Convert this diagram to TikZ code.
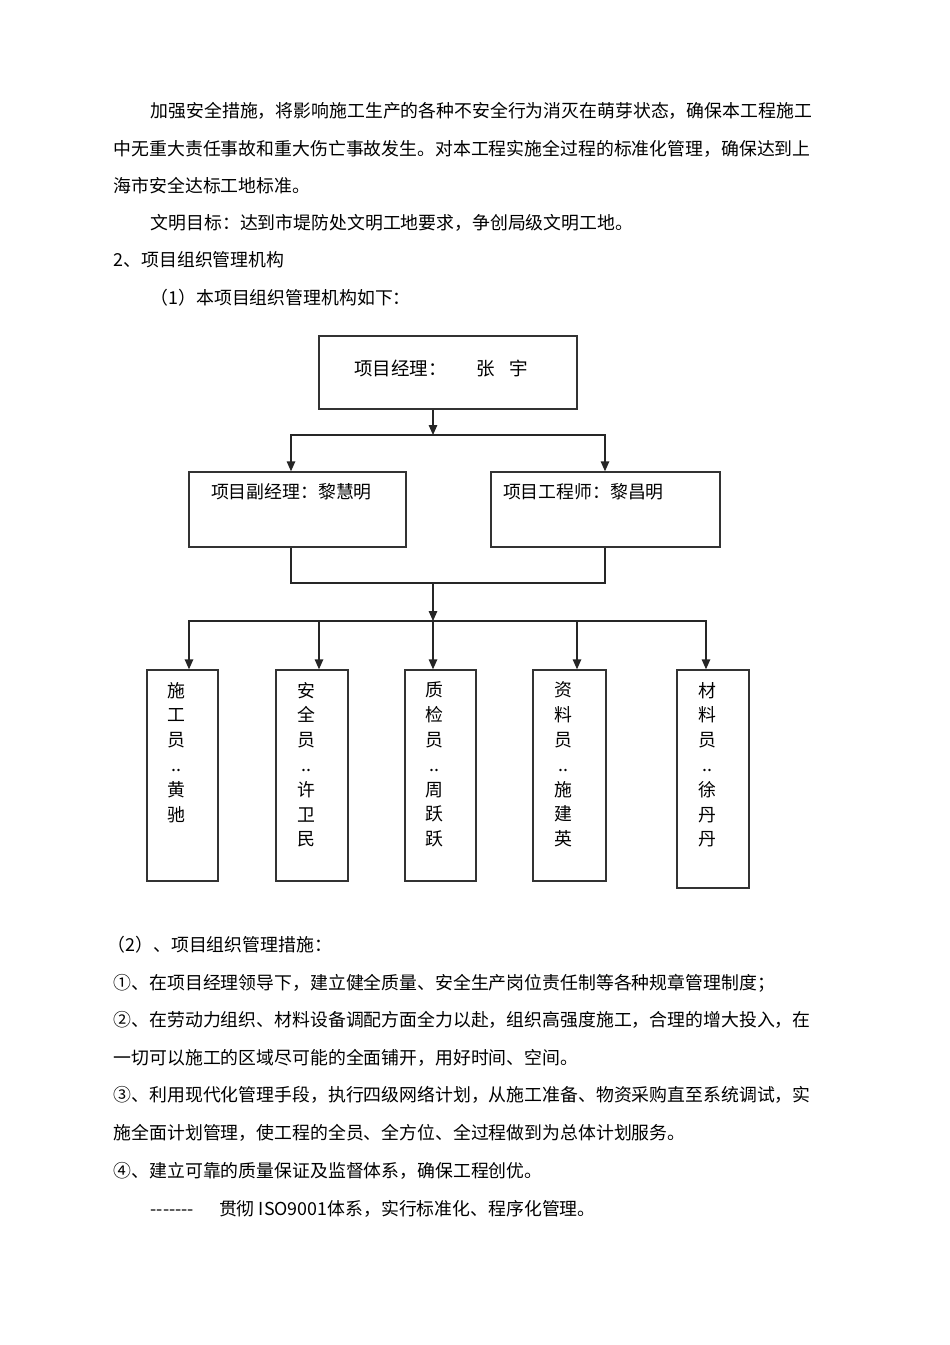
\documentclass[tikz,border=0pt]{standalone}
\usepackage{fontspec}
\setmainfont{Noto Sans CJK SC}
\usepackage{tikz}
\usetikzlibrary{arrows.meta}
\newcommand{\dashrun}{\mbox{-}\mbox{-}\mbox{-}\mbox{-}\mbox{-}\mbox{-}\mbox{-}}

\begin{document}
\begin{tikzpicture}[
  x=1pt, y=-1pt,
  font=\fontsize{17.87}{24.8}\selectfont,
  line width=1.4pt,
  para/.style={anchor=base west, inner sep=0pt},
  box/.style={draw=black!80, inner sep=0pt},
  staff/.style={box, minimum width=72pt, minimum height=211pt},
  inbox/.style={inner sep=0pt, align=center},
  link/.style={draw=black!85},
  arr/.style={link, -{Triangle[length=10pt,width=8.5pt]}}]
  \fill[white] (0,0) rectangle (950,1345);
  \useasboundingbox (0,0) rectangle (950,1345);

  \node[para] (p1) at (150,117.8) {加强安全措施，将影响施工生产的各种不安全行为消灭在萌芽状态，确保本工程施工};
  \node[para] (p2) at (113,155.8) {中无重大责任事故和重大伤亡事故发生。对本工程实施全过程的标准化管理，确保达到上};
  \node[para] (p3) at (113,192.8) {海市安全达标工地标准。};
  \node[para] (p4) at (150,229.8) {文明目标：达到市堤防处文明工地要求，争创局级文明工地。};
  \node[para] (p5) at (113,266.8) {2、项目组织管理机构};
  \node[para] (p6) at (150,304.3) {（1）本项目组织管理机构如下：};

  \node[box, minimum width=258pt, minimum height=73pt, font=\fontsize{18.5}{22}\selectfont] (pm) at (448,372.5)
    {\raisebox{4pt}[\height][\depth]{项目经理：\hspace{30.5pt}张\hspace{14.5pt}宇\hspace{13.5pt}}};
  \node[box, minimum width=217pt, minimum height=75pt,
    label={[inbox, anchor=west, xshift=22pt, yshift=-20pt]north west:项目副经理：黎慧明}] (deputy) at (297.5,509.5) {};
  \node[box, minimum width=229pt, minimum height=75pt,
    label={[inbox, anchor=west, xshift=12pt, yshift=-20pt]north west:项目工程师：黎昌明}] (engineer) at (605.5,509.5) {};

  \node[staff, minimum width=71pt,
    label={[inbox, anchor=north, xshift=-6pt, yshift=-12pt]north:施\\工\\员\\..\\黄\\驰}] (shigong) at (182.5,775.5) {};
  \node[staff,
    label={[inbox, anchor=north, xshift=-6pt, yshift=-12pt]north:安\\全\\员\\..\\许\\卫\\民}] (anquan) at (312,775.5) {};
  \node[staff, minimum width=71pt,
    label={[inbox, anchor=north, xshift=-6pt, yshift=-12pt]north:质\\检\\员\\..\\周\\跃\\跃}] (zhijian) at (440.5,775.5) {};
  \node[staff, minimum width=73pt,
    label={[inbox, anchor=north, xshift=-6pt, yshift=-12pt]north:资\\料\\员\\..\\施\\建\\英}] (ziliao) at (569.5,775.5) {};
  \node[staff, minimum height=218pt,
    label={[inbox, anchor=north, xshift=-6pt, yshift=-12pt]north:材\\料\\员\\..\\徐\\丹\\丹}] (cailiao) at (713,779) {};

  \coordinate (split1) at (433,435);
  \coordinate (join) at (433,583);
  \coordinate (split2) at (433,621);
  \draw[arr] (pm.south -| split1) -- (split1);
  \draw[arr] (split1) -| ([xshift=-6.5pt]deputy.north);
  \draw[arr] (split1) -| ([xshift=-0.5pt]engineer.north);
  \draw[link] ([xshift=-6.5pt]deputy.south) |- (join) -| ([xshift=-0.5pt]engineer.south);
  \draw[arr] (join) -- (split2);
  \foreach \who/\dx in {shigong/6.5, anquan/7, zhijian/-7.5, ziliao/7.5, cailiao/-7}
    \draw[arr] (split2) -| ([xshift=\dx pt]\who.north);

  \node[para] (q0) at (107,951.8) {（2）、项目组织管理措施：};
  \node[para] (q1) at (113,989.8) {①、在项目经理领导下，建立健全质量、安全生产岗位责任制等各种规章管理制度；};
  \node[para] (q2) at (113,1026.8) {②、在劳动力组织、材料设备调配方面全力以赴，组织高强度施工，合理的增大投入，在};
  \node[para] (q3) at (113,1064.8) {一切可以施工的区域尽可能的全面铺开，用好时间、空间。};
  \node[para] (q4) at (113,1101.8) {③、利用现代化管理手段，执行四级网络计划，从施工准备、物资采购直至系统调试，实};
  \node[para] (q5) at (113,1139.8) {施全面计划管理，使工程的全员、全方位、全过程做到为总体计划服务。};
  \node[para] (q6) at (113,1177.8) {④、建立可靠的质量保证及监督体系，确保工程创优。};
  \node[para] (q7) at (150,1215.8) {\dashrun\hspace{25pt}贯彻 ISO9001体系，实行标准化、程序化管理。};
\end{tikzpicture}
\end{document}
